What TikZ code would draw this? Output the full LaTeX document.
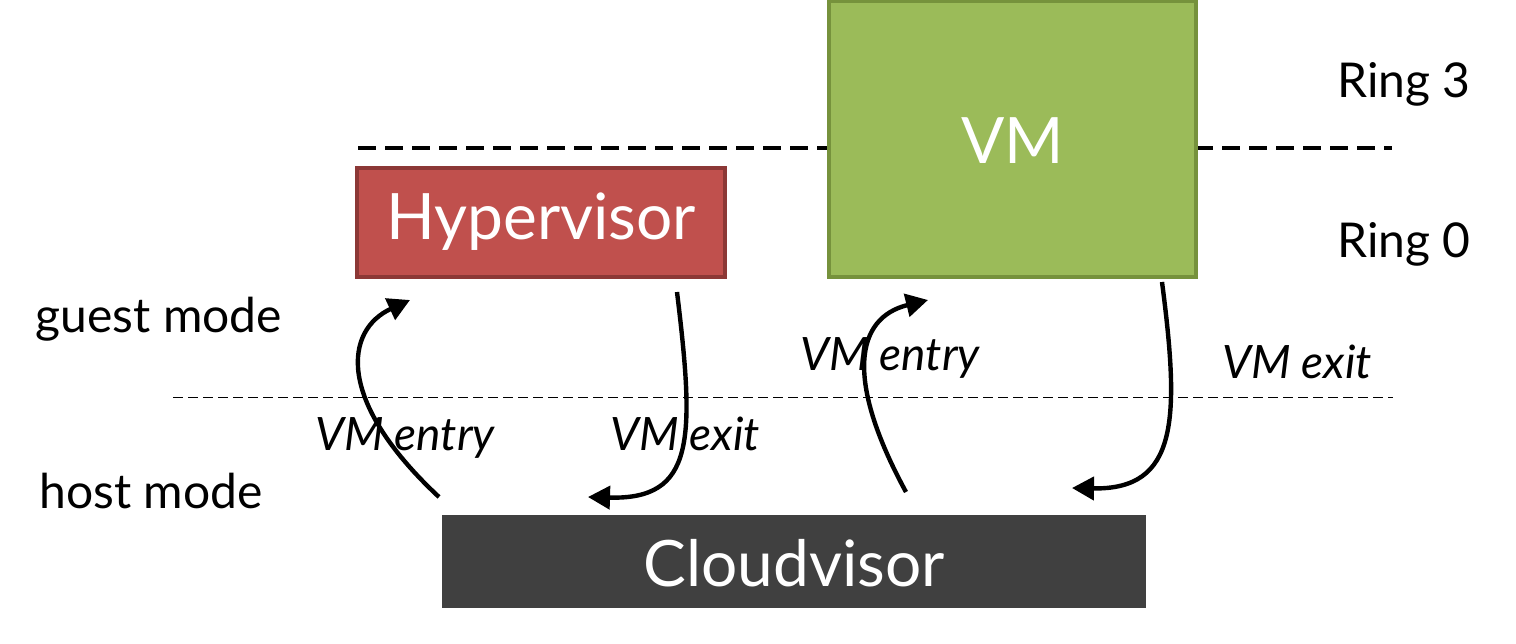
\documentclass[tikz,border=0pt]{standalone}
\usepackage{fontspec}
\setmainfont{Lato}
\usetikzlibrary{arrows.meta}
\definecolor{vmfill}{HTML}{9BBB59}
\definecolor{vmline}{HTML}{76923C}
\definecolor{hvfill}{HTML}{C0504D}
\definecolor{hvline}{HTML}{8C3836}
\definecolor{cvfill}{HTML}{404040}
\begin{document}
\begin{tikzpicture}[x=0.5pt,y=-0.5pt,
  box/.style={line width=1.75pt, inner sep=0pt, text=white, font=\fontsize{32}{36}\selectfont},
  lbl/.style={font=\fontsize{24}{28}\selectfont, inner sep=0pt, anchor=base},
  ilbl/.style={font=\fontsize{23}{28}\selectfont\itshape, inner sep=0pt, anchor=base},
  flow/.style={line width=2.2pt, -{Triangle[length=11pt,width=11.5pt]}},
  ringline/.style={line width=1.75pt, dash pattern=on 9pt off 4.5pt},
  modeline/.style={line width=0.5pt, dash pattern=on 5pt off 2.5pt}
]
\useasboundingbox (0,0) rectangle (1516,643);
% lines
\draw[ringline] (358,148) -- (1392,148);
\draw[modeline] (173,397) -- (1393,397);
% boxes
\node[box, draw=vmline, fill=vmfill, minimum width=183.5pt, minimum height=138pt] (vm) at (1012.5,139) {};
\node[box] (vmt) at (1013,141) {VM};
\node[box, draw=hvline, fill=hvfill, minimum width=184pt, minimum height=54.5pt] (hv) at (541,222.5) {};
\node[box] (hvt) at (541,222) {Hypervisor};
\node[box, fill=cvfill, minimum width=352pt, minimum height=46.5pt] (cv) at (794,561.5) {};
\node[box] (cvt) at (794,563) {Cloudvisor};
% labels
\node[lbl] (r3) at (1404,97) {Ring 3};
\node[lbl] (r0) at (1404,257) {Ring 0};
\node[lbl] (gm) at (159,332) {guest mode};
\node[lbl] (hm) at (151,508) {host mode};
\node[ilbl] (ve1) at (405,450) {VM entry};
\node[ilbl] (vx1) at (685,450) {VM exit};
\node[ilbl] (ve2) at (890,370) {VM entry};
\node[ilbl] (vx2) at (1297,378) {VM exit};
% arrows
\coordinate (e1s) at (439,497);
\coordinate (e1t) at (410,300);
\coordinate (x1s) at (677,292);
\coordinate (x1t) at (588,497);
\coordinate (e2s) at (906,492);
\coordinate (e2t) at (928,300);
\coordinate (x2s) at (1162,282);
\coordinate (x2t) at (1072,488);
\draw[flow] (e1s) .. controls (335,400) and (345,330) .. (e1t);
\draw[flow] (x1s) .. controls (695,440) and (695,500) .. (x1t);
\draw[flow] (e2s) .. controls (845,380) and (855,318) .. (e2t);
\draw[flow] (x2s) .. controls (1180,420) and (1178,490) .. (x2t);
\end{tikzpicture}
\end{document}
